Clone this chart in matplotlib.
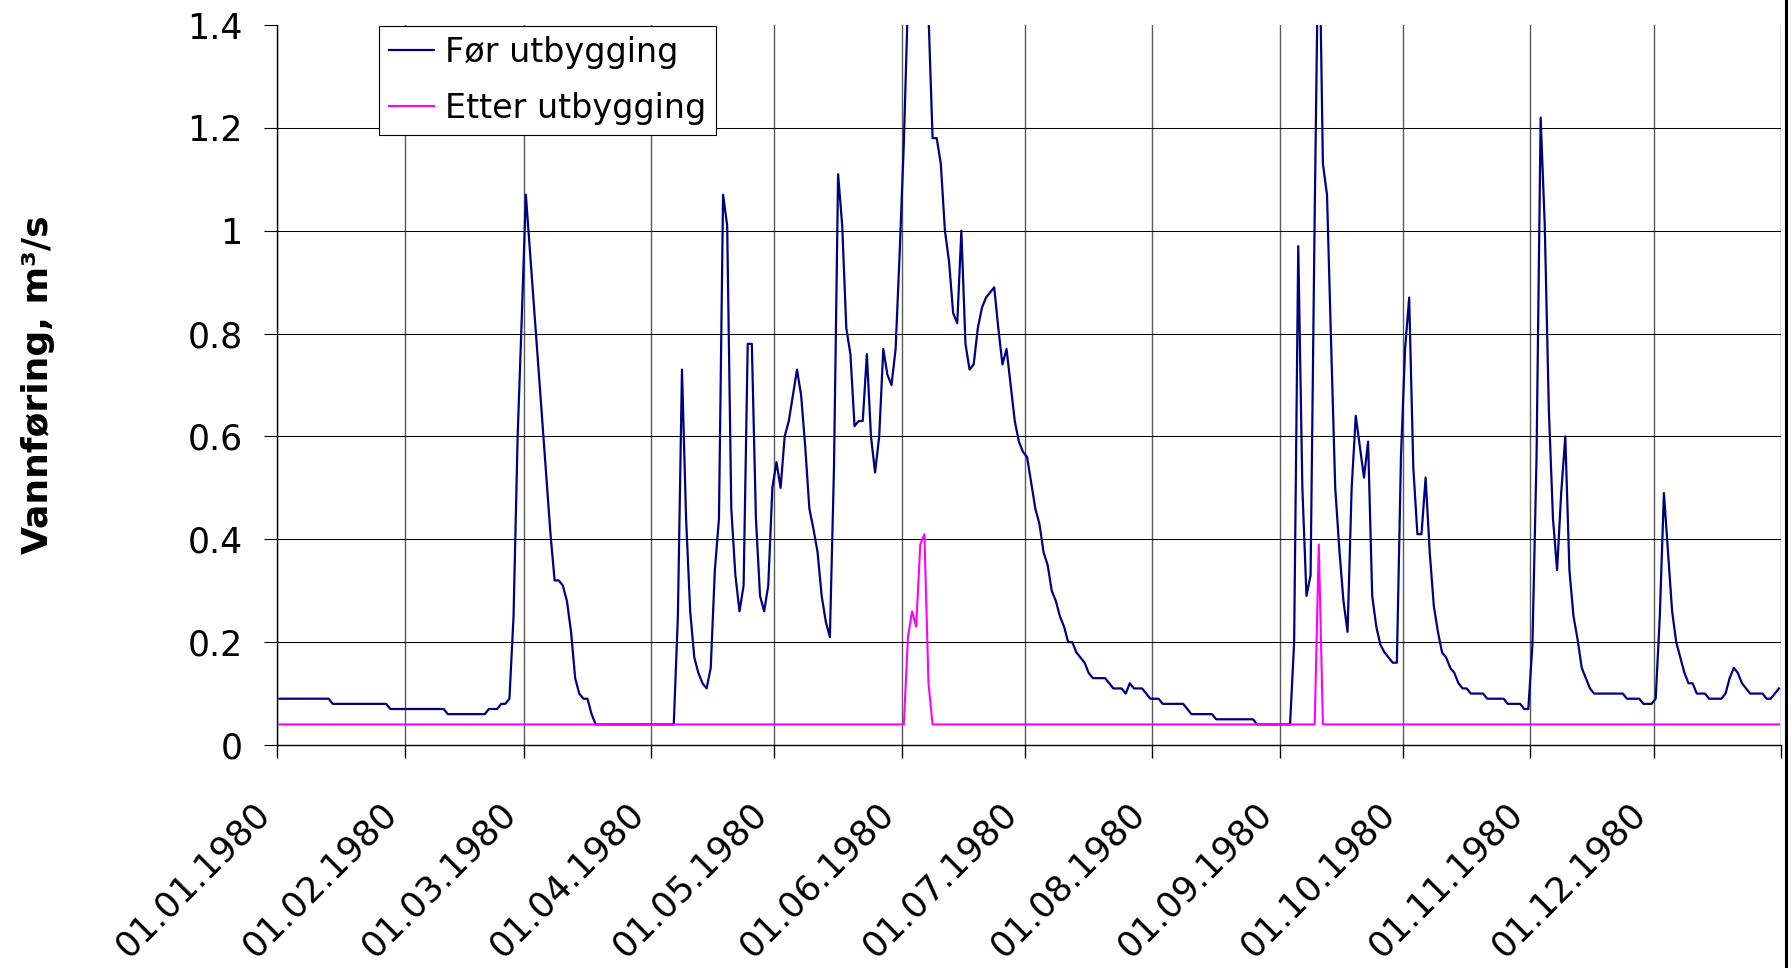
import numpy as np
import pandas as pd
import matplotlib
matplotlib.use('Agg')
import matplotlib.pyplot as plt
from matplotlib.lines import Line2D
from matplotlib.transforms import ScaledTranslation

plt.rcParams['font.family'] = ['DejaVu Sans']

# Daily discharge 1980 (m3/s), one list per month
for_jan = [0.09, 0.09, 0.09, 0.09, 0.09, 0.09, 0.09, 0.09, 0.09, 0.09, 0.09, 0.09, 0.09,
           0.08, 0.08, 0.08, 0.08, 0.08, 0.08, 0.08, 0.08, 0.08, 0.08, 0.08, 0.08, 0.08, 0.08,
           0.07, 0.07, 0.07, 0.07]
for_feb = [0.07, 0.07, 0.07, 0.07, 0.07, 0.07, 0.07, 0.07, 0.07, 0.07,
           0.06, 0.06, 0.06, 0.06, 0.06, 0.06, 0.06, 0.06, 0.06, 0.06,
           0.07, 0.07, 0.07, 0.08, 0.08, 0.09, 0.25, 0.60, 0.83]
for_mar = [1.07, 0.96, 0.85, 0.74, 0.63, 0.52, 0.41, 0.32, 0.32, 0.31,
           0.28, 0.22, 0.13, 0.10, 0.09, 0.09, 0.06, 0.04, 0.04, 0.04,
           0.04, 0.04, 0.04, 0.04, 0.04, 0.04, 0.04, 0.04, 0.04, 0.04, 0.04]
for_apr = [0.04, 0.04, 0.04, 0.04, 0.04, 0.04, 0.25, 0.73, 0.44, 0.26,
           0.17, 0.14, 0.12, 0.11, 0.15, 0.34, 0.44, 1.07, 1.01, 0.46,
           0.33, 0.26, 0.31, 0.78, 0.78, 0.44, 0.29, 0.26, 0.31, 0.50]
for_may = [0.55, 0.50, 0.60, 0.63, 0.68, 0.73, 0.68, 0.58, 0.46, 0.42,
           0.375, 0.29, 0.24, 0.21, 0.54, 1.11, 1.01, 0.81, 0.76, 0.62,
           0.63, 0.63, 0.76, 0.60, 0.53, 0.60, 0.77, 0.72, 0.70, 0.77, 0.96]
for_jun = [1.17, 1.45, 1.75, 1.90, 1.85, 1.60, 1.42, 1.18, 1.18, 1.13,
           1.00, 0.94, 0.84, 0.82, 1.00, 0.78, 0.73, 0.74, 0.81, 0.85,
           0.87, 0.88, 0.89, 0.81, 0.74, 0.77, 0.70, 0.63, 0.59, 0.57]
for_jul = [0.56, 0.51, 0.46, 0.43, 0.375, 0.35, 0.30, 0.28, 0.25, 0.23,
           0.20, 0.20, 0.18, 0.17, 0.16, 0.14, 0.13, 0.13, 0.13, 0.13,
           0.12, 0.11, 0.11, 0.11, 0.10, 0.12, 0.11, 0.11, 0.11, 0.10, 0.09]
for_aug = [0.09, 0.09, 0.08, 0.08, 0.08, 0.08, 0.08, 0.08, 0.07, 0.06,
           0.06, 0.06, 0.06, 0.06, 0.06, 0.05, 0.05, 0.05, 0.05, 0.05,
           0.05, 0.05, 0.05, 0.05, 0.05, 0.04, 0.04, 0.04, 0.04, 0.04, 0.04]
for_sep = [0.04, 0.04, 0.04, 0.20, 0.97, 0.50, 0.29, 0.33, 1.03, 1.65,
           1.13, 1.07, 0.78, 0.50, 0.38, 0.28, 0.22, 0.50, 0.64, 0.58,
           0.52, 0.59, 0.29, 0.23, 0.195, 0.18, 0.17, 0.16, 0.16, 0.56]
for_oct = [0.77, 0.87, 0.54, 0.41, 0.41, 0.52, 0.375, 0.27, 0.22, 0.18,
           0.17, 0.15, 0.14, 0.12, 0.11, 0.11, 0.10, 0.10, 0.10, 0.10,
           0.09, 0.09, 0.09, 0.09, 0.09, 0.08, 0.08, 0.08, 0.08, 0.07, 0.07]
for_nov = [0.195, 0.56, 1.22, 1.01, 0.65, 0.44, 0.34, 0.49, 0.60, 0.34,
           0.25, 0.205, 0.15, 0.13, 0.11, 0.10, 0.10, 0.10, 0.10, 0.10,
           0.10, 0.10, 0.10, 0.09, 0.09, 0.09, 0.09, 0.08, 0.08, 0.08]
for_dec = [0.09, 0.25, 0.49, 0.375, 0.26, 0.20, 0.17, 0.14, 0.12, 0.12,
           0.10, 0.10, 0.10, 0.09, 0.09, 0.09, 0.09, 0.10, 0.13, 0.15,
           0.14, 0.12, 0.11, 0.10, 0.10, 0.10, 0.10, 0.09, 0.09, 0.10, 0.11]

etter_jan = [0.04, 0.04, 0.04, 0.04, 0.04, 0.04, 0.04, 0.04, 0.04, 0.04,
             0.04, 0.04, 0.04, 0.04, 0.04, 0.04, 0.04, 0.04, 0.04, 0.04,
             0.04, 0.04, 0.04, 0.04, 0.04, 0.04, 0.04, 0.04, 0.04, 0.04, 0.04]
etter_feb = [0.04, 0.04, 0.04, 0.04, 0.04, 0.04, 0.04, 0.04, 0.04, 0.04,
             0.04, 0.04, 0.04, 0.04, 0.04, 0.04, 0.04, 0.04, 0.04, 0.04,
             0.04, 0.04, 0.04, 0.04, 0.04, 0.04, 0.04, 0.04, 0.04]
etter_mar = [0.04, 0.04, 0.04, 0.04, 0.04, 0.04, 0.04, 0.04, 0.04, 0.04,
             0.04, 0.04, 0.04, 0.04, 0.04, 0.04, 0.04, 0.04, 0.04, 0.04,
             0.04, 0.04, 0.04, 0.04, 0.04, 0.04, 0.04, 0.04, 0.04, 0.04, 0.04]
etter_apr = [0.04, 0.04, 0.04, 0.04, 0.04, 0.04, 0.04, 0.04, 0.04, 0.04,
             0.04, 0.04, 0.04, 0.04, 0.04, 0.04, 0.04, 0.04, 0.04, 0.04,
             0.04, 0.04, 0.04, 0.04, 0.04, 0.04, 0.04, 0.04, 0.04, 0.04]
etter_may = [0.04, 0.04, 0.04, 0.04, 0.04, 0.04, 0.04, 0.04, 0.04, 0.04,
             0.04, 0.04, 0.04, 0.04, 0.04, 0.04, 0.04, 0.04, 0.04, 0.04,
             0.04, 0.04, 0.04, 0.04, 0.04, 0.04, 0.04, 0.04, 0.04, 0.04, 0.04]
etter_jun = [0.04, 0.21, 0.26, 0.23, 0.39, 0.41, 0.12, 0.04, 0.04, 0.04,
             0.04, 0.04, 0.04, 0.04, 0.04, 0.04, 0.04, 0.04, 0.04, 0.04,
             0.04, 0.04, 0.04, 0.04, 0.04, 0.04, 0.04, 0.04, 0.04, 0.04]
etter_jul = [0.04, 0.04, 0.04, 0.04, 0.04, 0.04, 0.04, 0.04, 0.04, 0.04,
             0.04, 0.04, 0.04, 0.04, 0.04, 0.04, 0.04, 0.04, 0.04, 0.04,
             0.04, 0.04, 0.04, 0.04, 0.04, 0.04, 0.04, 0.04, 0.04, 0.04, 0.04]
etter_aug = [0.04, 0.04, 0.04, 0.04, 0.04, 0.04, 0.04, 0.04, 0.04, 0.04,
             0.04, 0.04, 0.04, 0.04, 0.04, 0.04, 0.04, 0.04, 0.04, 0.04,
             0.04, 0.04, 0.04, 0.04, 0.04, 0.04, 0.04, 0.04, 0.04, 0.04, 0.04]
etter_sep = [0.04, 0.04, 0.04, 0.04, 0.04, 0.04, 0.04, 0.04, 0.04, 0.39,
             0.04, 0.04, 0.04, 0.04, 0.04, 0.04, 0.04, 0.04, 0.04, 0.04,
             0.04, 0.04, 0.04, 0.04, 0.04, 0.04, 0.04, 0.04, 0.04, 0.04]
etter_oct = [0.04, 0.04, 0.04, 0.04, 0.04, 0.04, 0.04, 0.04, 0.04, 0.04,
             0.04, 0.04, 0.04, 0.04, 0.04, 0.04, 0.04, 0.04, 0.04, 0.04,
             0.04, 0.04, 0.04, 0.04, 0.04, 0.04, 0.04, 0.04, 0.04, 0.04, 0.04]
etter_nov = [0.04, 0.04, 0.04, 0.04, 0.04, 0.04, 0.04, 0.04, 0.04, 0.04,
             0.04, 0.04, 0.04, 0.04, 0.04, 0.04, 0.04, 0.04, 0.04, 0.04,
             0.04, 0.04, 0.04, 0.04, 0.04, 0.04, 0.04, 0.04, 0.04, 0.04]
etter_dec = [0.04, 0.04, 0.04, 0.04, 0.04, 0.04, 0.04, 0.04, 0.04, 0.04,
             0.04, 0.04, 0.04, 0.04, 0.04, 0.04, 0.04, 0.04, 0.04, 0.04,
             0.04, 0.04, 0.04, 0.04, 0.04, 0.04, 0.04, 0.04, 0.04, 0.04, 0.04]

x_labels = ['01.01.1980', '01.02.1980', '01.03.1980', '01.04.1980', '01.05.1980',
            '01.06.1980', '01.07.1980', '01.08.1980', '01.09.1980', '01.10.1980',
            '01.11.1980', '01.12.1980', '']
y_ticks = [0, 0.2, 0.4, 0.6, 0.8, 1.0, 1.2, 1.4]
y_labels = ['0', '0.2', '0.4', '0.6', '0.8', '1', '1.2', '1.4']

for_utbygging = np.concatenate([for_jan, for_feb, for_mar, for_apr, for_may, for_jun,
                                for_jul, for_aug, for_sep, for_oct, for_nov, for_dec])
etter_utbygging = np.concatenate([etter_jan, etter_feb, etter_mar, etter_apr, etter_may, etter_jun,
                                  etter_jul, etter_aug, etter_sep, etter_oct, etter_nov, etter_dec])

# one point per day, centred in its day slot (date axis "between tick marks")
days = pd.date_range('1980-01-01', '1980-12-31', freq='D') + pd.Timedelta(hours=12)
month_ticks = pd.date_range('1980-01-01', '1981-01-01', freq='MS')

fig = plt.figure(figsize=(17.92, 9.68), dpi=100)
ax = fig.add_axes([0.15474, 0.23037, 0.83912, 0.74380])

ax.plot(days, for_utbygging, color='#000080', lw=1.6, label='Før utbygging', zorder=3)
ax.plot(days, etter_utbygging, color='#ff00ff', lw=1.5, label='Etter utbygging', zorder=4)

ax.set_xlim(month_ticks[0], month_ticks[-1])
ax.set_ylim(0, 1.4)

ax.set_xticks(month_ticks)
ax.set_xticklabels(x_labels, rotation=45, ha='right', va='center',
                   rotation_mode='anchor', fontsize=25.5)
ax.set_yticks(y_ticks)
ax.set_yticklabels(y_labels, fontsize=25)

ax.tick_params(axis='y', direction='out', length=9.4, width=0.8, pad=15.5)
ax.tick_params(axis='x', direction='out', length=9.4, width=1.0, pad=36)

# nudge the slanted date labels a little to the left of their ticks
# (done after tick_params, which would reset the label transforms)
shift = ScaledTranslation(-0.13, 0, fig.dpi_scale_trans)
for lab in ax.get_xticklabels():
    lab.set_transform(lab.get_transform() + shift)

ax.grid(axis='y', color='black', lw=0.75, zorder=1)
ax.grid(axis='x', color='#5a5a5a', lw=1.0, zorder=1)
ax.yaxis.get_gridlines()[-1].set_visible(False)

ax.spines['top'].set_visible(False)
ax.spines['right'].set_visible(False)
ax.spines['left'].set_linewidth(1.0)
ax.spines['bottom'].set_linewidth(1.0)

ax.set_ylabel('Vannføring, m³/s', fontsize=26, fontweight='bold')
ax.yaxis.set_label_coords(-0.148, 0.5)

leg = ax.legend(loc='upper left', bbox_to_anchor=(0.0676, 0.9986), borderaxespad=0,
                fontsize=24, frameon=True, fancybox=False, framealpha=1,
                edgecolor='black', borderpad=0.3, labelspacing=0.68,
                handlelength=1.35, handletextpad=0.33)
leg.get_frame().set_linewidth(0.8)
leg.set_zorder(10)

# chart-area border along the right edge of the picture
fig.add_artist(Line2D([0.9965, 0.9965], [0, 1], transform=fig.transFigure,
                      color='black', lw=2.2))

fig.savefig('out.png', dpi=100)
